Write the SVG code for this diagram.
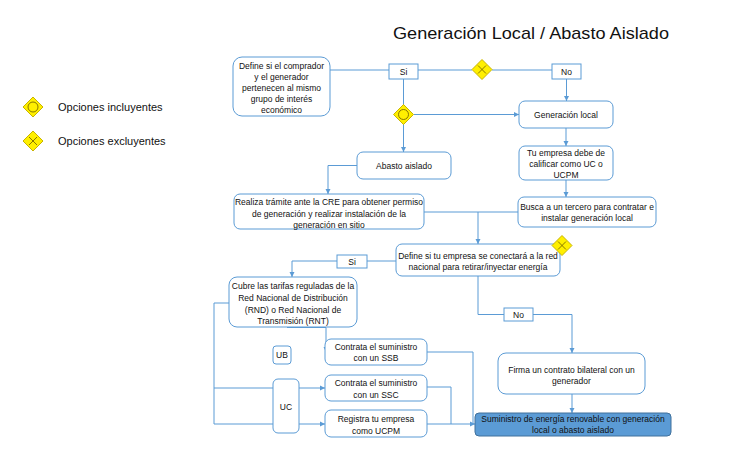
<svg xmlns="http://www.w3.org/2000/svg" width="752" height="450" viewBox="0 0 752 450">
<defs>
<style>
.bx{fill:#fff;stroke:#5B9BD5;stroke-width:1}
.lb{fill:#fff;stroke:#5B9BD5;stroke-width:1}
.t{font-family:"Liberation Sans",Arial,sans-serif;font-size:8.5px;fill:#111;text-anchor:middle}
.lg{font-family:"Liberation Sans",Arial,sans-serif;font-size:11px;fill:#111}
.c{fill:none;stroke:#5B9BD5;stroke-width:1}
.dm{fill:#FFEF00;stroke:#C8B400;stroke-width:1}
.sym{fill:none;stroke:#7A6A00;stroke-width:0.9}
</style>
<marker id="ar" markerUnits="userSpaceOnUse" markerWidth="6" markerHeight="6" refX="5" refY="3" orient="auto">
<path d="M0,0.5 L5,3 L0,5.5 z" fill="#5B9BD5"/>
</marker>
<g id="gwo"><polygon class="dm" points="0,-10 10,0 0,10 -10,0"/><circle class="sym" r="5"/></g>
<g id="gwx"><polygon class="dm" points="0,-10 10,0 0,10 -10,0"/><path class="sym" d="M-4,-4 L4,4 M4,-4 L-4,4"/></g>
</defs>
<rect width="752" height="450" fill="#fff"/>
<text x="531" y="39" font-family="'Liberation Sans',Arial,sans-serif" font-size="17" fill="#111" text-anchor="middle" textLength="276" lengthAdjust="spacingAndGlyphs">Generación Local / Abasto Aislado</text>

<g id="legend">
<use href="#gwo" x="33" y="107"/>
<text class="lg" x="58" y="111">Opciones incluyentes</text>
<use href="#gwx" x="33" y="141"/>
<text class="lg" x="58" y="145">Opciones excluyentes</text>
</g>

<g id="connectors">
<path class="c" d="M330,70 H389"/>
<path class="c" d="M418,70 H472"/>
<path class="c" d="M492,70 H552"/>
<path class="c" d="M566.5,79 V101" marker-end="url(#ar)"/>
<path class="c" d="M403.5,79 V105"/>
<path class="c" d="M414,114.5 H519" marker-end="url(#ar)"/>
<path class="c" d="M403.5,124 V152" marker-end="url(#ar)"/>
<path class="c" d="M357,165.5 H328 V194" marker-end="url(#ar)"/>
<path class="c" d="M566,128 V146" marker-end="url(#ar)"/>
<path class="c" d="M566,180 V197" marker-end="url(#ar)"/>
<path class="c" d="M424,212 H518"/>
<path class="c" d="M478,212 V244" marker-end="url(#ar)"/>
<path class="c" d="M396,261 H367"/>
<path class="c" d="M337,261 H292 V277" marker-end="url(#ar)"/>
<path class="c" d="M478,276 V314.5 H504"/>
<path class="c" d="M533,314.5 H572 V353" marker-end="url(#ar)"/>
<path class="c" d="M572,394 V413" marker-end="url(#ar)"/>
<path class="c" d="M229,303 H214 V424 H325" marker-end="url(#ar)"/>
<path class="c" d="M214,388 H325" marker-end="url(#ar)"/>
<path class="c" d="M287,327.5 H326 V352" marker-end="url(#ar)"/>
<path class="c" d="M427,352 H473 V424"/>
<path class="c" d="M427,387 H451 V424"/>
<path class="c" d="M427,424 H475" marker-end="url(#ar)"/>
</g>

<g id="n-define-comprador">
<rect class="bx" x="233" y="57" width="97" height="59" rx="9"/>
<text class="t" x="281.5" y="69">Define si el comprador</text>
<text class="t" x="281.5" y="80">y el generador</text>
<text class="t" x="281.5" y="91">pertenecen al mismo</text>
<text class="t" x="281.5" y="102">grupo de interés</text>
<text class="t" x="281.5" y="113">económico</text>
</g>
<g id="l-si1"><rect class="lb" x="389" y="64" width="29" height="15"/><text class="t" x="403.5" y="74.5">Si</text></g>
<g id="gw-x1"><use href="#gwx" x="482" y="69.5"/></g>
<g id="l-no1"><rect class="lb" x="552" y="64" width="29" height="15"/><text class="t" x="566.5" y="74.5">No</text></g>
<g id="gw-o1"><use href="#gwo" x="403.5" y="114.5"/></g>

<g id="n-generacion-local">
<rect class="bx" x="519" y="101" width="94" height="27" rx="6"/>
<text class="t" x="566" y="117.5">Generación local</text>
</g>
<g id="n-tu-empresa">
<rect class="bx" x="519" y="146" width="94" height="34" rx="6"/>
<text class="t" x="566" y="156">Tu empresa debe de</text>
<text class="t" x="566" y="167">calificar como UC o</text>
<text class="t" x="566" y="178">UCPM</text>
</g>
<g id="n-busca">
<rect class="bx" x="518" y="197" width="138" height="30" rx="6"/>
<text class="t" x="587" y="210">Busca a un tercero para contratar e</text>
<text class="t" x="587" y="221">instalar generación local</text>
</g>
<g id="n-abasto">
<rect class="bx" x="357" y="152" width="94" height="27" rx="6"/>
<text class="t" x="404" y="168.5">Abasto aislado</text>
</g>
<g id="n-realiza">
<rect class="bx" x="234" y="194" width="190" height="35" rx="6"/>
<text class="t" x="329" y="205">Realiza trámite ante la CRE para obtener permiso</text>
<text class="t" x="329" y="217">de generación y realizar instalación de la</text>
<text class="t" x="329" y="228">generación en sitio</text>
</g>
<g id="n-define-red">
<rect class="bx" x="396" y="244" width="164" height="32" rx="6"/>
<text class="t" x="478" y="258.5">Define si tu empresa se conectará a la red</text>
<text class="t" x="478" y="269.5">nacional para retirar/inyectar energía</text>
</g>
<g id="gw-x2"><use href="#gwx" x="562" y="245.5"/></g>
<g id="l-si2"><rect class="lb" x="337" y="255" width="30" height="13"/><text class="t" x="352" y="264.5">Si</text></g>
<g id="n-cubre">
<rect class="bx" x="229" y="277" width="128" height="50" rx="8"/>
<text class="t" x="293" y="289">Cubre las tarifas reguladas de la</text>
<text class="t" x="293" y="301">Red Nacional de Distribución</text>
<text class="t" x="293" y="313">(RND) o Red Nacional de</text>
<text class="t" x="293" y="324">Transmisión (RNT)</text>
</g>
<g id="l-no2"><rect class="lb" x="504" y="308" width="29" height="13"/><text class="t" x="518.5" y="317.5">No</text></g>
<g id="n-firma">
<rect class="bx" x="498" y="353" width="147" height="41" rx="8"/>
<text class="t" x="571.5" y="373">Firma un contrato bilateral con un</text>
<text class="t" x="571.5" y="384">generador</text>
</g>
<g id="n-ub">
<rect class="bx" x="273" y="346" width="18" height="18" rx="3"/>
<text class="t" x="282" y="358">UB</text>
</g>
<g id="n-uc">
<rect class="bx" x="273" y="379" width="26" height="54" rx="5"/>
<text class="t" x="286" y="410">UC</text>
</g>
<g id="n-ssb">
<rect class="bx" x="325" y="339" width="102" height="26" rx="6"/>
<text class="t" x="376" y="350">Contrata el suministro</text>
<text class="t" x="376" y="361">con un SSB</text>
</g>
<g id="n-ssc">
<rect class="bx" x="325" y="375" width="102" height="26" rx="6"/>
<text class="t" x="376" y="386">Contrata el suministro</text>
<text class="t" x="376" y="398">con un SSC</text>
</g>
<g id="n-ucpm">
<rect class="bx" x="325" y="410" width="102" height="27" rx="6"/>
<text class="t" x="376" y="422">Registra tu empresa</text>
<text class="t" x="376" y="434">como UCPM</text>
</g>
<g id="n-suministro">
<rect x="475" y="413" width="196" height="23" rx="4" fill="#5B9BD5" stroke="#41719C" stroke-width="1"/>
<text class="t" x="573" y="422">Suministro de energía renovable con generación</text>
<text class="t" x="573" y="432.5">local o abasto aislado</text>
</g>
</svg>
